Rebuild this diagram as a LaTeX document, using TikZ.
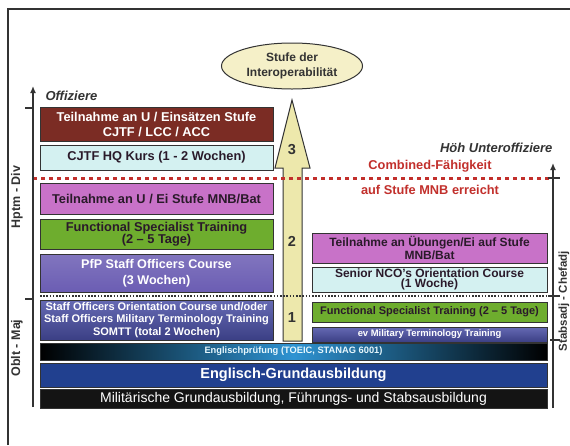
\documentclass[tikz,border=0pt]{standalone}
\usepackage{fontspec}
\setmainfont{Liberation Sans}
\usetikzlibrary{shapes.geometric}
\usetikzlibrary{arrows.meta}

\definecolor{kastanie}{HTML}{7B2C24}
\definecolor{hellcyan}{HTML}{D4F1F1}
\definecolor{orchidee}{HTML}{C872C8}
\definecolor{gras}{HTML}{6EAD2E}
\definecolor{lila}{HTML}{6B5DB3}
\definecolor{stahlblau}{HTML}{4A4FA6}
\definecolor{tiefblau}{HTML}{21408F}
\definecolor{pruefblau}{HTML}{2E93D2}
\definecolor{sand}{HTML}{EDE8AC}
\definecolor{sandhell}{HTML}{F5F0C8}
\definecolor{rotlinie}{HTML}{C2302C}
\definecolor{rahmen}{HTML}{333333}
\definecolor{dunkeltext}{HTML}{2A1A2A}

\tikzset{
  kurs/.style={draw=rahmen, line width=1pt, inner sep=1pt, align=center,
    font=\bfseries\fontsize{12.5}{14}\selectfont},
  links/.style={kurs, minimum width=233},
  rechts/.style={kurs, minimum width=235},
  balken/.style={kurs, minimum width=507},
  achse/.style={line width=1.8pt, rahmen, -{Latex[length=7pt,width=6pt]}},
  strich/.style={line width=1.8pt, rahmen},
  rang/.style={rotate=90, font=\bfseries\fontsize{12.5}{14}\selectfont, text=rahmen},
  gruppe/.style={font=\bfseries\itshape\fontsize{13}{15}\selectfont, text=rahmen},
  stufe/.style={font=\bfseries\fontsize{14.5}{16}\selectfont, text=rahmen},
}

\begin{document}
\begin{tikzpicture}[x=1pt,y=-1pt]
\useasboundingbox[fill=white] (0,0) rectangle (570,445);

%frame
\draw[rahmen, line width=1.2pt] (8,445) -- (8,9) -- (570,9);

%interop arrow
\draw[rahmen, line width=1pt, fill=sand] (292,100) -- (310,168) -- (302,168) -- (302,341)
  -- (283,341) -- (283,168) -- (275,168) -- cycle;
\node[stufe] (stufe3) at (292,150) {3};
\node[stufe] (stufe2) at (292,241) {2};
\node[stufe] (stufe1) at (292,318) {1};

%ellipse
\node[ellipse, draw=rahmen, line width=1pt, fill=sandhell, minimum width=141, minimum height=46,
  inner sep=0pt, align=center, font=\bfseries\fontsize{12}{14.5}\selectfont, text=rahmen]
  (interop) at (292,66) {Stufe der\\Interoperabilität};

%Offiziere
\node[links, fill=kastanie, text=white, minimum height=34,
  font=\bfseries\fontsize{12.8}{15}\selectfont] (einsatzcjtf) at (156.5,124)
  {Teilnahme an U / Einsätzen Stufe\\CJTF / LCC / ACC};
\node[links, fill=hellcyan, text=dunkeltext, minimum height=25,
  font=\bfseries\fontsize{12.8}{14}\selectfont] (hqkurs) at (156.5,157.5)
  {CJTF HQ Kurs (1 - 2 Wochen)};
\node[links, fill=orchidee, text=dunkeltext, minimum height=31,
  font=\bfseries\fontsize{12.8}{14}\selectfont] (einsatzmnb) at (156.5,198.5)
  {Teilnahme an U / Ei Stufe MNB/Bat};
\node[links, fill=gras, text=dunkeltext, minimum height=30,
  font=\bfseries\fontsize{12.8}{12.5}\selectfont] (fstoff) at (156.5,234)
  {Functional Specialist Training\\(2 -- 5 Tage)};
\node[links, top color=lila!85!white, bottom color=lila, text=white, minimum height=38,
  font=\bfseries\fontsize{12.6}{16}\selectfont] (pfp) at (156.5,273)
  {PfP Staff Officers Course\\(3 Wochen)};
\node[links, top color=stahlblau!85!white, bottom color=stahlblau!80!black, text=white, minimum height=40,
  font=\bfseries\fontsize{11}{12.8}\selectfont] (somtt) at (156.5,320)
  {Staff Officers Orientation Course und/oder\\Staff Officers Military Terminology Training\\SOMTT (total 2 Wochen)};

%Unteroffiziere
\node[rechts, fill=orchidee, text=dunkeltext, minimum height=30,
  font=\bfseries\fontsize{12}{13.5}\selectfont] (uebungmnb) at (429.5,248)
  {Teilnahme an Übungen/Ei auf Stufe\\MNB/Bat};
\node[rechts, fill=hellcyan, text=dunkeltext, minimum height=25,
  font=\bfseries\fontsize{12}{10.5}\selectfont] (snco) at (429.5,279.5)
  {Senior NCO's Orientation Course\\(1 Woche)};
\node[rechts, fill=gras, text=dunkeltext, minimum height=20,
  font=\bfseries\fontsize{11}{12}\selectfont] (fstuof) at (429.5,312)
  {Functional Specialist Training (2 -- 5 Tage)};
\node[rechts, top color=stahlblau!85!white, bottom color=stahlblau!80!black, text=white, minimum height=15,
  font=\bfseries\fontsize{9.4}{10}\selectfont] (evmtt) at (429.5,334.5)
  {ev Military Terminology Training};

%common bars
\node[balken, left color=black, right color=black, middle color=pruefblau, text=white!90!cyan,
  minimum height=17, font=\bfseries\fontsize{9.3}{10}\selectfont] (pruefung) at (293.5,351.5)
  {Englischprüfung (TOEIC, STANAG 6001)};
\node[balken, fill=tiefblau, text=white, minimum height=24,
  font=\bfseries\fontsize{14.5}{16}\selectfont] (englisch) at (293.5,375)
  {Englisch-Grundausbildung};
\node[balken, fill=black!92, text=white, minimum height=19,
  font=\fontsize{14}{15}\selectfont] (grundausb) at (293.5,398.5)
  {Militärische Grundausbildung, Führungs- und Stabsausbildung};

%level lines
\draw[rotlinie, line width=3pt, dash pattern=on 4pt off 4pt] (33,178) -- (553,178);
\draw[rahmen, line width=2.5pt, dash pattern=on 1.6pt off 1.6pt] (40,296) -- (553,296);
\node[text=rotlinie, font=\bfseries\fontsize{12.8}{14}\selectfont] (combined) at (430,166) {Combined-Fähigkeit};
\node[text=rotlinie, font=\bfseries\fontsize{12.8}{14}\selectfont] (mnb) at (430,190) {auf Stufe MNB erreicht};

%left axis
\coordinate (offunten) at (33,407);
\coordinate (offoben) at (33,86);
\draw[achse] (offunten) -- (offoben);
\draw[strich] (25,108) -- (33,108);
\draw[strich] (25,299) -- (33,299);
\node[gruppe, anchor=west] (offiziere) at (42,96) {Offiziere};
\node[rang] (hptm) at (17,197) {Hptm - Div};
\node[rang] (oblt) at (17,348) {Oblt - Maj};

%right axis
\coordinate (uofunten) at (553,408);
\coordinate (uofoben) at (553,163);
\draw[achse] (uofunten) -- (uofoben);
\draw[strich] (548,178) -- (560,178);
\draw[strich] (548,296) -- (560,296);
\draw[strich] (550,340) -- (560,340);
\node[gruppe, anchor=east] (hoeh) at (556,148) {Höh Unteroffiziere};
\node[rang, inner sep=0pt, font=\bfseries\fontsize{11.5}{13}\selectfont] (stabsadj) at (564,301) {Stabsadj - Chefadj};

\end{tikzpicture}
\end{document}
